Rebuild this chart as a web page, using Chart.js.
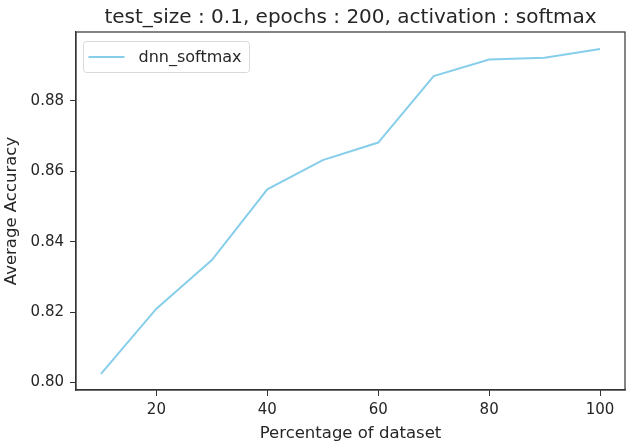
<!DOCTYPE html>
<html>
<head>
<meta charset="utf-8">
<script src="https://cdn.jsdelivr.net/npm/chart.js"></script>
<style>
  html, body { margin: 0; padding: 0; background: #fff; }
  #wrap { width: 630px; height: 442px; }
</style>
</head>
<body>
<div id="wrap"><canvas id="accChart" width="630" height="442"></canvas></div>
<script>
// data
const percentages = [10, 20, 30, 40, 50, 60, 70, 80, 90, 100];
const avgAccuracy = [0.8025, 0.8210, 0.8348, 0.8549, 0.8632, 0.8682, 0.8871, 0.8918, 0.8923, 0.8948];
const xTicks = [20, 40, 60, 80, 100];
const yTicks = [0.80, 0.82, 0.84, 0.86, 0.88];
const seriesName = "dnn_softmax";
const chartTitle = "test_size : 0.1, epochs : 200, activation : softmax";

const FONT = "DejaVu Sans";
const TXT = "#262626";
const LINE = "#87ceeb";

// title + frame + legend, matplotlib style
const decor = {
  id: "decor",
  afterDraw(chart) {
    const { ctx, chartArea: a } = chart;
    ctx.save();
    ctx.strokeStyle = "#333";
    ctx.lineWidth = 1.2;
    ctx.strokeRect(a.left, a.top, a.right - a.left, a.bottom - a.top);

    ctx.fillStyle = TXT;
    ctx.font = "20px " + FONT;
    ctx.textAlign = "center";
    ctx.textBaseline = "middle";
    ctx.fillText(chartTitle, (a.left + a.right) / 2, 18);

    // legend box
    const bx = a.left + 7.5, by = a.top + 9.5, bw = 166, bh = 31;
    ctx.strokeStyle = "#d9d9d9";
    ctx.lineWidth = 1;
    ctx.fillStyle = "rgba(255,255,255,0.8)";
    ctx.beginPath();
    ctx.roundRect(bx, by, bw, bh, 3);
    ctx.fill();
    ctx.stroke();
    ctx.strokeStyle = LINE;
    ctx.lineWidth = 2;
    ctx.beginPath();
    ctx.moveTo(bx + 5, by + bh / 2);
    ctx.lineTo(bx + 41, by + bh / 2);
    ctx.stroke();
    ctx.fillStyle = TXT;
    ctx.font = "16px " + FONT;
    ctx.textAlign = "left";
    ctx.fillText(seriesName, bx + 55, by + bh / 2 + 1);
    ctx.restore();
  }
};

new Chart(document.getElementById("accChart"), {
  type: "line",
  data: {
    datasets: [{
      label: seriesName,
      data: percentages.map((p, i) => ({ x: p, y: avgAccuracy[i] })),
      borderColor: LINE,
      borderWidth: 2,
      pointRadius: 0,
      tension: 0,
      fill: false
    }]
  },
  options: {
    responsive: false,
    animation: false,
    layout: { padding: { top: 32, right: 5, left: 0, bottom: 0 } },
    plugins: { legend: { display: false }, tooltip: { enabled: false } },
    scales: {
      x: {
        type: "linear",
        min: 5.5,
        max: 104.5,
        afterBuildTicks: s => { s.ticks = xTicks.map(v => ({ value: v })); },
        afterFit: s => { s.height = 52; },
        border: { display: true, color: "#333", width: 1.2 },
        grid: { drawOnChartArea: false, drawTicks: true, tickLength: 6, color: "#333" },
        ticks: { color: TXT, font: { family: FONT, size: 15 }, padding: 5, maxRotation: 0 },
        title: { display: true, text: "Percentage of dataset", color: TXT,
                 font: { family: FONT, size: 16.5, lineHeight: 1 }, padding: { top: 0, bottom: 0 } }
      },
      y: {
        min: 0.7979,
        max: 0.8996,
        afterBuildTicks: s => { s.ticks = yTicks.map(v => ({ value: v })); },
        afterFit: s => { s.width = 76; },
        border: { display: true, color: "#333", width: 1.2 },
        grid: { drawOnChartArea: false, drawTicks: true, tickLength: 6, color: "#333" },
        ticks: { color: TXT, font: { family: FONT, size: 15 }, padding: 6,
                 callback: v => v.toFixed(2) },
        title: { display: true, text: "Average Accuracy", color: TXT,
                 font: { family: FONT, size: 16.5 }, padding: { top: 2, bottom: 0 } }
      }
    }
  },
  plugins: [decor]
});
</script>
</body>
</html>
